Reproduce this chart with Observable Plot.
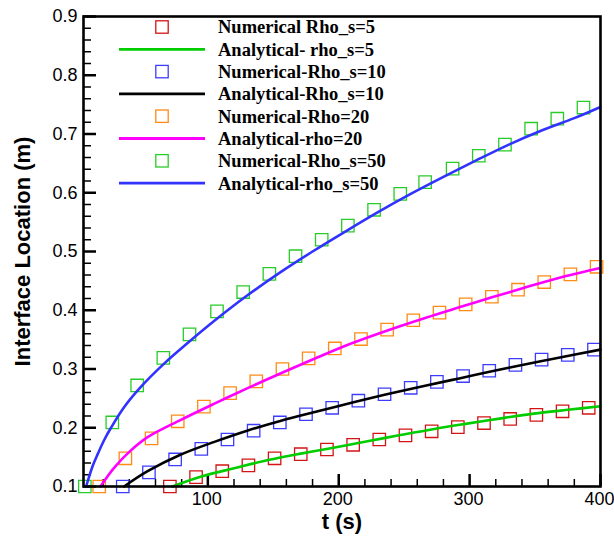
<!DOCTYPE html>
<html>
<head>
<meta charset="utf-8">
<script src="https://cdn.jsdelivr.net/npm/d3@7"></script>
<script src="https://cdn.jsdelivr.net/npm/@observablehq/plot@0.6"></script>
<style>
  html, body { margin: 0; padding: 0; background: #fff; }
  #chart { width: 614px; height: 543px; }
</style>
</head>
<body>
<div id="chart"></div>
<script>
// ---------- data ----------
// Numerical, rho_s = 5
const t5Num = [71, 91, 111, 131, 151, 171, 191, 211, 231, 251, 271, 291, 311, 331, 351, 371, 391];
const v5Num = [0.100, 0.116, 0.126, 0.136, 0.148, 0.155, 0.163, 0.171, 0.180, 0.187, 0.194, 0.201, 0.208, 0.215, 0.222, 0.228, 0.234];
// Analytical, rho_s = 5
const t5Ana = [73, 95, 120, 146, 171, 196, 222, 247, 273, 298, 324, 349, 375, 400];
const v5Ana = [0.100, 0.117, 0.131, 0.145, 0.156, 0.166, 0.177, 0.1875, 0.198, 0.207, 0.216, 0.224, 0.2305, 0.2365];
// Numerical, rho_s = 10
const t10Num = [35, 55, 75, 95, 115, 135, 155, 175, 195, 215, 235, 255, 275, 295, 315, 335, 355, 375, 395];
const v10Num = [0.100, 0.124, 0.146, 0.164, 0.180, 0.195, 0.209, 0.223, 0.234, 0.246, 0.257, 0.268, 0.278, 0.288, 0.297, 0.307, 0.316, 0.324, 0.333];
// Analytical, rho_s = 10
const t10Ana = [36, 54, 79, 105, 130, 156, 184, 209, 235, 266, 292, 317, 343, 368, 400];
const v10Ana = [0.100, 0.126, 0.154, 0.176, 0.195, 0.212, 0.228, 0.242, 0.256, 0.2715, 0.284, 0.296, 0.308, 0.319, 0.333];
// Numerical, rho = 20
const t20Num = [17, 37, 57, 77, 97, 117, 137, 157, 177, 197, 217, 237, 257, 277, 297, 317, 337, 357, 377, 397];
const v20Num = [0.100, 0.148, 0.182, 0.211, 0.236, 0.259, 0.279, 0.300, 0.318, 0.335, 0.351, 0.367, 0.383, 0.396, 0.410, 0.423, 0.435, 0.448, 0.461, 0.474];
// Analytical, rho = 20
const t20Ana = [18, 28.5, 41, 54, 79, 105, 130, 158, 184, 209, 235, 266, 292, 317, 343, 368, 400];
const v20Ana = [0.100, 0.132, 0.161, 0.184, 0.213, 0.241, 0.267, 0.295, 0.320, 0.343, 0.364, 0.387, 0.405, 0.422, 0.439, 0.455, 0.472];
// Numerical, rho_s = 50
const t50Num = [6, 27, 46, 66, 86, 107, 127, 147, 167, 187, 207, 227, 247, 266, 287, 307, 327, 347, 367, 387];
const v50Num = [0.100, 0.209, 0.272, 0.319, 0.359, 0.398, 0.431, 0.462, 0.492, 0.520, 0.544, 0.571, 0.598, 0.618, 0.641, 0.663, 0.682, 0.709, 0.726, 0.745];
// Analytical, rho_s = 50
const t50Ana = [7, 12, 16, 21, 26, 36, 49, 67, 85, 105, 130, 155, 180, 205, 230, 255, 280, 305, 330, 355, 380, 400];
const v50Ana = [0.100, 0.135, 0.156, 0.180, 0.200, 0.235, 0.270, 0.310, 0.345, 0.382, 0.425, 0.464, 0.500, 0.534, 0.567, 0.598, 0.627, 0.655, 0.682, 0.706, 0.727, 0.746];

// ticks
const xMajor = [100, 200, 300, 400];
const xMinor = [20, 40, 60, 80, 120, 140, 160, 180, 220, 240, 260, 280, 320, 340, 360, 380];
const yMajor = [0.1, 0.2, 0.3, 0.4, 0.5, 0.6, 0.7, 0.8, 0.9];
const yMinor = [0.12, 0.14, 0.16, 0.18, 0.22, 0.24, 0.26, 0.28, 0.32, 0.34, 0.36, 0.38,
                0.42, 0.44, 0.46, 0.48, 0.52, 0.54, 0.56, 0.58, 0.62, 0.64, 0.66, 0.68,
                0.72, 0.74, 0.76, 0.78, 0.82, 0.84, 0.86, 0.88];

// legend
const legendLabels = [
  "Numerical Rho_s=5", "Analytical- rho_s=5",
  "Numerical-Rho_s=10", "Analytical-Rho_s=10",
  "Numerical-Rho=20", "Analytical-rho=20",
  "Numerical-Rho_s=50", "Analytical-rho_s=50"
];
const xTitle = "t (s)";
const yTitle = "Interface Location (m)";

// ---------- build ----------
const zip = (ts, vs) => ts.map((t, i) => ({t, v: vs[i]}));
const series = [
  {kind: "num", data: zip(t5Num, v5Num), color: "#d21414"},
  {kind: "ana", data: zip(t5Ana, v5Ana), color: "#00cc00"},
  {kind: "num", data: zip(t10Num, v10Num), color: "#3c3cff"},
  {kind: "ana", data: zip(t10Ana, v10Ana), color: "#000000"},
  {kind: "num", data: zip(t20Num, v20Num), color: "#ff8a14"},
  {kind: "ana", data: zip(t20Ana, v20Ana), color: "#ff00ff"},
  {kind: "num", data: zip(t50Num, v50Num), color: "#28cc28"},
  {kind: "ana", data: zip(t50Ana, v50Ana), color: "#3232ff"}
];

const W = 614, H = 543;
const mL = 83, mR = 14, mT = 16, mB = 57;
const fw = W - mL - mR, fh = H - mT - mB;

const dataMarks = series.map(s => s.kind === "num"
  ? Plot.dot(s.data, {x: "t", y: "v", symbol: "square", r: 7, stroke: s.color, strokeWidth: 1.3, fill: "none"})
  : Plot.line(s.data, {x: "t", y: "v", stroke: s.color, strokeWidth: 2.6, curve: "catmull-rom"}));

const chart = Plot.plot({
  width: W, height: H,
  marginLeft: mL, marginRight: mR, marginTop: mT, marginBottom: mB,
  x: {domain: [5, 400]},
  y: {domain: [0.1, 0.9]},
  style: {fontFamily: "'Liberation Sans', Arial, sans-serif", fontSize: "18px", background: "#fff", color: "#000", overflow: "visible"},
  marks: [
    Plot.tickX(xMinor, {x: d => d, insetTop: fh - 7, stroke: "#000", strokeWidth: 1.5}),
    Plot.tickX(xMajor, {x: d => d, insetTop: fh - 12, stroke: "#000", strokeWidth: 2.5}),
    Plot.tickY(yMinor, {y: d => d, insetRight: fw - 8, stroke: "#000", strokeWidth: 1.5}),
    Plot.tickY(yMajor, {y: d => d, insetRight: fw - 13, stroke: "#000", strokeWidth: 2.5}),
    Plot.axisX(xMajor, {tickSize: 0, tickPadding: 6, label: null, fontSize: 18, dx: -1}),
    Plot.axisY(yMajor, {tickSize: 0, tickPadding: 6, label: null, fontSize: 18, tickFormat: d3.format(".1f")}),
    ...dataMarks,
    Plot.frame({stroke: "#000", strokeWidth: 2.6}),
    Plot.text([xTitle], {frameAnchor: "bottom", dy: 42, text: d => d, textAnchor: "middle", fontWeight: "bold", fontSize: 22}),
    Plot.text([yTitle], {frameAnchor: "left", dx: -61, rotate: -90, text: d => d, textAnchor: "middle", fontWeight: "bold", fontSize: 22})
  ]
});

// legend drawn into the same svg
const svg = d3.select(chart);
const lg = svg.append("g").attr("class", "legend").attr("text-anchor", "start");
legendLabels.forEach((label, i) => {
  const s = series[i];
  const cy = 27 + i * 22.3;
  if (s.kind === "num") {
    lg.append("rect").attr("x", 162 - 6.2).attr("y", cy - 6.2).attr("width", 12.4).attr("height", 12.4)
      .attr("fill", "none").attr("stroke", s.color).attr("stroke-width", 1.3);
  } else {
    lg.append("line").attr("x1", 119).attr("x2", 205).attr("y1", cy).attr("y2", cy)
      .attr("stroke", s.color).attr("stroke-width", 2.8);
  }
  lg.append("text").attr("x", 218).attr("y", cy).attr("dy", "0.35em")
    .attr("text-anchor", "start")
    .attr("font-family", "'Liberation Serif', 'Times New Roman', serif")
    .attr("font-weight", "bold").attr("font-size", 18.5).attr("fill", "#000")
    .text(label);
});

document.getElementById("chart").appendChild(chart);
</script>
</body>
</html>
